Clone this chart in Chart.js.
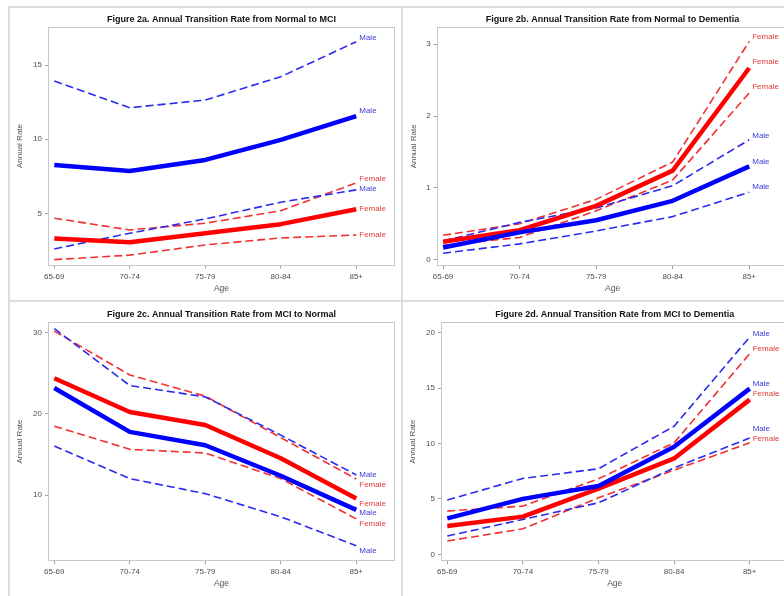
<!DOCTYPE html>
<html>
<head>
<meta charset="utf-8">
<script src="https://cdn.jsdelivr.net/npm/chart.js@4.4.1/dist/chart.umd.min.js"></script>
<style>
  html, body { margin: 0; padding: 0; background: #fff; }
  body { width: 784px; height: 596px; position: relative; overflow: hidden; }
  canvas { position: absolute; }
  .rule { position: absolute; background: #dedede; }
</style>
</head>
<body>
<div class="rule" style="left:9px; top:6px; width:775px; height:2px"></div>
<div class="rule" style="left:9px; top:300px; width:775px; height:2px"></div>
<div class="rule" style="left:8px; top:6px; width:2px; height:590px"></div>
<div class="rule" style="left:401px; top:6px; width:2px; height:590px"></div>
<canvas id="fig2a" width="391" height="293" style="left:10px; top:8px; width:391px; height:293px"></canvas>
<canvas id="fig2b" width="391" height="293" style="left:403px; top:8px; width:391px; height:293px"></canvas>
<canvas id="fig2c" width="391" height="293" style="left:10px; top:303px; width:391px; height:293px"></canvas>
<canvas id="fig2d" width="391" height="293" style="left:403px; top:303px; width:391px; height:293px"></canvas>
<script>
const ageGroups = ['65-69', '70-74', '75-79', '80-84', '85+'];

// Figure 2a: Normal -> MCI
const normMciMale = [8.26, 7.86, 8.6, 9.95, 11.56];
const normMciMaleHi = [13.92, 12.12, 12.64, 14.21, 16.57];
const normMciMaleLo = [2.6, 3.66, 4.62, 5.75, 6.58];
const normMciFemale = [3.3, 3.05, 3.66, 4.27, 5.28];
const normMciFemaleHi = [4.67, 3.88, 4.33, 5.18, 7.05];
const normMciFemaleLo = [1.88, 2.18, 2.87, 3.34, 3.54];
const normMciTicks = [5, 10, 15];

// Figure 2b: Normal -> Dementia
const normDemMale = [0.17, 0.38, 0.55, 0.82, 1.30];
const normDemMaleHi = [0.26, 0.52, 0.72, 1.03, 1.67];
const normDemMaleLo = [0.09, 0.22, 0.40, 0.60, 0.94];
const normDemFemale = [0.25, 0.41, 0.75, 1.24, 2.67];
const normDemFemaleHi = [0.34, 0.50, 0.84, 1.36, 3.04];
const normDemFemaleLo = [0.20, 0.31, 0.68, 1.11, 2.32];
const normDemTicks = [0, 1, 2, 3];

// Figure 2c: MCI -> Normal
const mciNormMale = [23.2, 17.8, 16.15, 12.4, 8.2];
const mciNormMaleHi = [30.5, 23.5, 22.1, 17.4, 12.5];
const mciNormMaleLo = [16.05, 12.05, 10.2, 7.35, 3.8];
const mciNormFemale = [24.4, 20.25, 18.65, 14.55, 9.6];
const mciNormFemaleHi = [30.2, 24.8, 22.2, 17.1, 12.0];
const mciNormFemaleLo = [18.5, 15.65, 15.2, 12.05, 7.1];
const mciNormTicks = [10, 20, 30];

// Figure 2d: MCI -> Dementia
const mciDemMale = [3.24, 5.0, 6.16, 9.7, 14.95];
const mciDemMaleHi = [4.9, 6.85, 7.72, 11.56, 19.6];
const mciDemMaleLo = [1.65, 3.15, 4.65, 7.8, 10.5];
const mciDemFemale = [2.55, 3.4, 5.92, 8.65, 13.96];
const mciDemFemaleHi = [3.9, 4.35, 6.82, 10.06, 18.1];
const mciDemFemaleLo = [1.2, 2.3, 5.1, 7.6, 10.06];
const mciDemTicks = [0, 5, 10, 15, 20];

const FONT = '"Liberation Sans", Arial, sans-serif';

function lineSet(values, sex, solid, dy) {
    const blue = sex === 'Male';
    return {
        label: sex,
        data: values.map((y, i) => ({ x: i, y: y })),
        borderColor: solid ? (blue ? '#0000ff' : '#ff0000') : (blue ? '#2a2af0' : '#f03030'),
        borderWidth: solid ? 4.5 : 1.6,
        borderDash: solid ? [] : [8, 4],
        borderJoinStyle: 'round',
        pointRadius: 0,
        tension: 0,
        fill: false,
        endLabelColor: blue ? '#3b3bd6' : '#e03a3a',
        endLabelDy: dy,
    };
}

// text "Male"/"Female" at the right end of each line
const endLabels = {
    id: 'endLabels',
    afterDatasetsDraw(chart) {
        const ctx = chart.ctx;
        ctx.save();
        ctx.font = '8px ' + FONT;
        ctx.textBaseline = 'middle';
        ctx.textAlign = 'left';
        chart.data.datasets.forEach((ds, i) => {
            const pts = chart.getDatasetMeta(i).data;
            const last = pts[pts.length - 1];
            ctx.fillStyle = ds.endLabelColor;
            ctx.fillText(ds.label, last.x + 3, last.y + ds.endLabelDy);
        });
        ctx.restore();
    }
};

// grey box round the plot area
const plotFrame = {
    id: 'plotFrame',
    beforeDatasetsDraw(chart) {
        const { left, top, right, bottom } = chart.chartArea;
        const ctx = chart.ctx;
        ctx.save();
        ctx.strokeStyle = '#c6c6c6';
        ctx.lineWidth = 1;
        ctx.strokeRect(Math.round(left) - 0.5, Math.round(top) - 0.5,
            Math.round(right) - Math.round(left) + 1, Math.round(bottom) - Math.round(top) + 1);
        ctx.restore();
    }
};

function makePanel(p) {
    const titleLine = 10.8;
    return new Chart(document.getElementById(p.id), {
        type: 'line',
        data: { datasets: p.series },
        options: {
            responsive: false,
            animation: false,
            events: [],
            layout: { padding: { top: 0, left: 0, bottom: 0, right: p.padRight } },
            plugins: {
                legend: { display: false },
                tooltip: { enabled: false },
                title: {
                    display: true,
                    text: p.title,
                    fullSize: false,
                    color: '#111',
                    font: { family: FONT, size: 9, weight: 'bold' },
                    padding: { top: 5.7, bottom: p.chartTop - 5.7 - titleLine }
                }
            },
            scales: {
                x: {
                    type: 'linear',
                    min: -0.07,
                    max: 4.5,
                    afterBuildTicks: (s) => { s.ticks = ageGroups.map((_, i) => ({ value: i })); },
                    afterFit: (s) => { s.height = 293 - p.chartBottom; },
                    ticks: {
                        callback: (v) => ageGroups[v],
                        font: { family: FONT, size: 8 },
                        color: '#4d4d4d',
                        padding: 3,
                        maxRotation: 0,
                        autoSkip: false
                    },
                    grid: { drawOnChartArea: false, drawTicks: true, tickLength: 4, color: '#a0a0a0' },
                    border: { display: false },
                    title: {
                        display: true, text: 'Age', color: '#555',
                        font: { family: FONT, size: 8.5 },
                        padding: { top: 0, bottom: 7 }
                    }
                },
                y: {
                    min: p.yMin,
                    max: p.yMax,
                    afterBuildTicks: (s) => { s.ticks = p.yTicks.map((v) => ({ value: v })); },
                    afterFit: (s) => { s.width = p.yAxisWidth; },
                    ticks: {
                        callback: (v) => String(v),
                        font: { family: FONT, size: 8 },
                        color: '#4d4d4d',
                        padding: 3
                    },
                    grid: { drawOnChartArea: false, drawTicks: true, tickLength: 4, color: '#a0a0a0' },
                    border: { display: false },
                    title: {
                        display: true, text: 'Annual Rate', color: '#555',
                        font: { family: FONT, size: 8 },
                        padding: { top: p.yTitleX - 4.8, bottom: 0 }
                    }
                }
            }
        },
        plugins: [plotFrame, endLabels]
    });
}

makePanel({
    id: 'fig2a',
    title: 'Figure 2a. Annual Transition Rate from Normal to MCI',
    yMin: 1.55, yMax: 17.53, yTicks: normMciTicks,
    yAxisWidth: 39, padRight: 7, chartTop: 19.5, chartBottom: 256.5, yTitleX: 10,
    series: [
        lineSet(normMciMale, 'Male', true, -5),
        lineSet(normMciFemale, 'Female', true, -0.3),
        lineSet(normMciMaleHi, 'Male', false, -4.3),
        lineSet(normMciMaleLo, 'Male', false, -0.7),
        lineSet(normMciFemaleHi, 'Female', false, -4),
        lineSet(normMciFemaleLo, 'Female', false, 0)
    ]
});

makePanel({
    id: 'fig2b',
    title: 'Figure 2b. Annual Transition Rate from Normal to Dementia',
    yMin: -0.074, yMax: 3.231, yTicks: normDemTicks,
    yAxisWidth: 34.7, padRight: 6.5, chartTop: 19.7, chartBottom: 257, yTitleX: 10.7,
    series: [
        lineSet(normDemMale, 'Male', true, -5),
        lineSet(normDemFemale, 'Female', true, -5.7),
        lineSet(normDemMaleHi, 'Male', false, -4.3),
        lineSet(normDemMaleLo, 'Male', false, -5),
        lineSet(normDemFemaleHi, 'Female', false, -4.3),
        lineSet(normDemFemaleLo, 'Female', false, -6)
    ]
});

makePanel({
    id: 'fig2c',
    title: 'Figure 2c. Annual Transition Rate from MCI to Normal',
    yMin: 2.0, yMax: 31.23, yTicks: mciNormTicks,
    yAxisWidth: 39, padRight: 7, chartTop: 19.7, chartBottom: 257.3, yTitleX: 10,
    series: [
        lineSet(mciNormMale, 'Male', true, 3.3),
        lineSet(mciNormFemale, 'Female', true, 5.7),
        lineSet(mciNormMaleHi, 'Male', false, 0),
        lineSet(mciNormMaleLo, 'Male', false, 5),
        lineSet(mciNormFemaleHi, 'Female', false, 5.7),
        lineSet(mciNormFemaleLo, 'Female', false, 5)
    ]
});

makePanel({
    id: 'fig2d',
    title: 'Figure 2d. Annual Transition Rate from MCI to Dementia',
    yMin: -0.54, yMax: 20.9, yTicks: mciDemTicks,
    yAxisWidth: 39, padRight: 6.5, chartTop: 19.7, chartBottom: 257.3, yTitleX: 10,
    series: [
        lineSet(mciDemMale, 'Male', true, -5),
        lineSet(mciDemFemale, 'Female', true, -5.7),
        lineSet(mciDemMaleHi, 'Male', false, -3.3),
        lineSet(mciDemMaleLo, 'Male', false, -9.3),
        lineSet(mciDemFemaleHi, 'Female', false, -5),
        lineSet(mciDemFemaleLo, 'Female', false, -4)
    ]
});
</script>
</body>
</html>
